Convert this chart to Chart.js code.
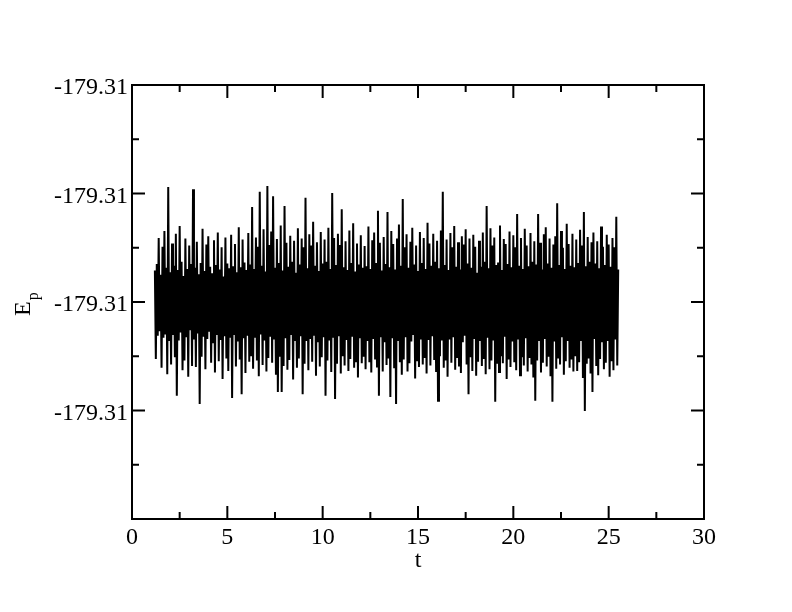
<!DOCTYPE html>
<html>
<head>
<meta charset="utf-8">
<script src="https://cdn.jsdelivr.net/npm/chart.js@4"></script>
<style>
  body { margin: 0; background: #fff; }
  canvas { display: block; }
</style>
</head>
<body>
<canvas id="epChart" width="792" height="612"></canvas>
<script>
// sampling of the run: first time stamp and step between samples
const tStart = 1.2;
const tStep = 0.05;
const epBase = -179.31;

// Ep deviation from -179.31, in units of 1e-6
const epOffsetMicro = [
  58, -105, 70, -62, 118, -54, 50, -121, 102, -66, 131, -60, 63, -133, 212, -72, 55, -115, 108, -61,
  67, -102, 126, -173, 59, -71, 140, -56, 74, -126, 48, -108, 117, -65, 61, -138, 104, -52, 70, -118,
  208, -69, 63, -120, 111, -58, 51, -188, 72, -101, 135, -64, 57, -124, 106, -68, 121, -55, 65, -112,
  53, -74, 114, -130, 68, -61, 128, -109, 60, -70, 101, -142, 47, -63, 119, -104, 71, -127, 62, -66,
  124, -177, 66, -59, 107, -119, 55, -73, 138, -106, 64, -170, 115, -67, 73, -131, 59, -62, 127, -110,
  69, -100, 175, -123, 61, -66, 119, -108, 102, -137, 203, -60, 67, -116, 134, -71, 56, -128, 214, -103,
  105, -64, 130, -112, 195, -69, 63, -134, 116, -166, 72, -101, 141, -166, 58, -118, 177, -67, 109, -125,
  65, -107, 122, -61, 74, -143, 113, -70, 54, -121, 136, -104, 69, -63, 117, -170, 101, -114, 192, -72,
  62, -126, 125, -68, 104, -110, 148, -62, 67, -136, 110, -74, 57, -119, 129, -102, 71, -65, 115, -173,
  74, -108, 137, -71, 61, -129, 201, -66, 118, -179, 68, -114, 126, -63, 105, -132, 171, -100, 64, -117,
  112, -70, 59, -127, 132, -105, 72, -64, 145, -121, 56, -109, 108, -139, 69, -67, 123, -113, 63, -101,
  103, -124, 66, -72, 139, -111, 61, -130, 114, -68, 128, -106, 72, -119, 168, -173, 109, -65, 58, -128,
  120, -74, 70, -116, 166, -104, 64, -175, 131, -67, 107, -122, 60, -188, 117, -72, 143, -111, 67, -134,
  190, -106, 101, -65, 125, -128, 63, -113, 111, -73, 137, -61, 69, -141, 104, -109, 57, -120, 129, -69,
  72, -115, 118, -103, 61, -132, 146, -70, 108, -117, 67, -63, 126, -107, 74, -129, 113, -182, 62, -100,
  132, -71, 203, -121, 68, -108, 115, -138, 59, -69, 127, -112, 101, -65, 140, -125, 65, -103, 110, -119,
  60, -131, 121, -74, 106, -62, 134, -115, 71, -170, 117, -102, 63, -127, 124, -68, 102, -136, 54, -110,
  113, -72, 65, -118, 128, -105, 74, -133, 177, -66, 62, -124, 136, -108, 104, -71, 119, -184, 68, -114,
  73, -129, 141, -100, 59, -113, 116, -64, 107, -142, 70, -106, 130, -120, 64, -73, 123, -111, 101, -126,
  162, -69, 67, -135, 118, -102, 61, -117, 135, -67, 104, -128, 66, -103, 127, -115, 74, -139, 112, -182,
  69, -108, 162, -72, 109, -130, 60, -112, 125, -68, 138, -119, 71, -101, 117, -137, 63, -184, 106, -73,
  121, -123, 182, -104, 68, -115, 131, -65, 100, -134, 61, -109, 144, -72, 107, -121, 67, -106, 126, -128,
  64, -100, 115, -127, 72, -111, 133, -70, 104, -140, 166, -201, 66, -114, 120, -104, 74, -132, 110, -166,
  128, -68, 71, -118, 112, -135, 62, -105, 139, -74, 102, -124, 68, -112, 124, -72, 106, -138, 65, -109,
  118, -126, 101, -69, 157, -117, 60
];

// axis ticks
const xMajorTicks = [0, 5, 10, 15, 20, 25, 30];
const xMinorTicks = [2.5, 7.5, 12.5, 17.5, 22.5, 27.5];
const yMajorTicks = [-179.3104, -179.3102, -179.3100, -179.3098, -179.3096];
const yMinorTicks = [-179.3103, -179.3101, -179.3099, -179.3097];
const yTickLabels = ['', '-179.31', '-179.31', '-179.31', '-179.31'];

const points = epOffsetMicro.map((off, i) => ({ x: tStart + i * tStep, y: epBase + off * 1e-6 }));

const serif = "'Liberation Serif', 'Times New Roman', serif";

// frame, inward ticks on all sides and the axis titles
const framePlugin = {
  id: 'frame',
  afterDraw(chart) {
    const ctx = chart.ctx;
    const { left, right, top, bottom } = chart.chartArea;
    const xs = chart.scales.x, ys = chart.scales.y;
    ctx.save();
    ctx.strokeStyle = '#000';
    ctx.lineWidth = 2;
    ctx.strokeRect(left, top, right - left, bottom - top);
    ctx.beginPath();
    const xTick = (v, len) => {
      const px = xs.getPixelForValue(v);
      ctx.moveTo(px, bottom); ctx.lineTo(px, bottom - len);
      ctx.moveTo(px, top); ctx.lineTo(px, top + len);
    };
    const yTick = (v, len) => {
      const py = ys.getPixelForValue(v);
      ctx.moveTo(left, py); ctx.lineTo(left + len, py);
      ctx.moveTo(right, py); ctx.lineTo(right - len, py);
    };
    xMajorTicks.forEach(v => xTick(v, 13));
    xMinorTicks.forEach(v => xTick(v, 7));
    yMajorTicks.forEach(v => yTick(v, 13));
    yMinorTicks.forEach(v => yTick(v, 7));
    ctx.stroke();

    ctx.fillStyle = '#000';
    ctx.textBaseline = 'alphabetic';
    ctx.font = '24px ' + serif;
    ctx.textAlign = 'center';
    ctx.fillText('t', (left + right) / 2, 567);

    ctx.translate(30, 316);
    ctx.rotate(-Math.PI / 2);
    ctx.textAlign = 'left';
    ctx.fillText('E', 0, 0);
    const w = ctx.measureText('E').width;
    ctx.font = '16px ' + serif;
    ctx.fillText('p', w + 1, 8);
    ctx.restore();
  }
};

new Chart(document.getElementById('epChart'), {
  type: 'line',
  data: {
    datasets: [{
      data: points,
      borderColor: '#000',
      borderWidth: 2,
      pointRadius: 0,
      tension: 0,
      fill: false
    }]
  },
  options: {
    responsive: false,
    animation: false,
    layout: { padding: { left: 0, top: 85, right: 88, bottom: 0 } },
    plugins: { legend: { display: false }, tooltip: { enabled: false } },
    scales: {
      x: {
        type: 'linear',
        min: 0,
        max: 30,
        grid: { display: false, drawTicks: false },
        border: { display: false },
        afterFit(scale) { scale.height = 93; },
        afterBuildTicks(scale) { scale.ticks = xMajorTicks.map(v => ({ value: v })); },
        ticks: {
          padding: 4,
          color: '#000',
          font: { family: serif, size: 24 },
          maxRotation: 0,
          callback: v => String(v)
        }
      },
      y: {
        type: 'linear',
        min: -179.3104,
        max: -179.3096,
        grid: { display: false, drawTicks: false },
        border: { display: false },
        afterFit(scale) { scale.width = 132; },
        afterBuildTicks(scale) { scale.ticks = yMajorTicks.map(v => ({ value: v })); },
        ticks: {
          padding: 4,
          labelOffset: 3,
          color: '#000',
          font: { family: serif, size: 24 },
          callback: (v, i) => yTickLabels[i]
        }
      }
    }
  },
  plugins: [framePlugin]
});
</script>
</body>
</html>
